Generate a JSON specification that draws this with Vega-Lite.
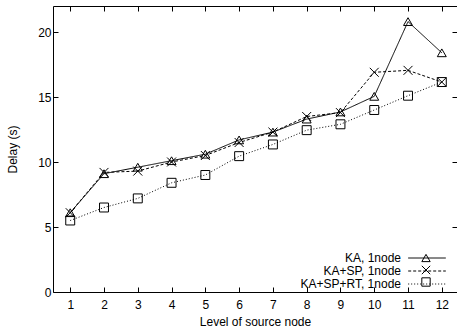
{
  "$schema": "https://vega.github.io/schema/vega-lite/v6.json",
  "width": 404,
  "height": 286,
  "autosize": "none",
  "padding": {"left": 53, "top": 6, "right": 0, "bottom": 39},
  "background": "white",
  "config": {
    "view": {"stroke": null},
    "font": "Liberation Sans",
    "axis": {
      "grid": false,
      "domainColor": "black",
      "domainWidth": 1,
      "tickColor": "black",
      "tickWidth": 1,
      "labelColor": "black",
      "labelFontSize": 12,
      "labelFont": "Liberation Sans",
      "titleFont": "Liberation Sans",
      "titleFontSize": 12,
      "titleFontWeight": "normal",
      "titleColor": "black"
    }
  },
  "data": {
    "values": [
      {"level": 1, "series": "KA, 1node", "mk": "KA, 1node", "delay": 6.1},
      {"level": 2, "series": "KA, 1node", "mk": "KA, 1node", "delay": 9.1},
      {"level": 3, "series": "KA, 1node", "mk": "KA, 1node", "delay": 9.6},
      {"level": 4, "series": "KA, 1node", "mk": "KA, 1node", "delay": 10.1},
      {"level": 5, "series": "KA, 1node", "mk": "KA, 1node", "delay": 10.6},
      {"level": 6, "series": "KA, 1node", "mk": "KA, 1node", "delay": 11.7},
      {"level": 7, "series": "KA, 1node", "mk": "KA, 1node", "delay": 12.3},
      {"level": 8, "series": "KA, 1node", "mk": "KA, 1node", "delay": 13.3},
      {"level": 9, "series": "KA, 1node", "mk": "KA, 1node", "delay": 13.85},
      {"level": 10, "series": "KA, 1node", "mk": "KA, 1node", "delay": 15.05},
      {"level": 11, "series": "KA, 1node", "mk": "KA, 1node", "delay": 20.8},
      {"level": 12, "series": "KA, 1node", "mk": "KA, 1node", "delay": 18.4},
      {"level": 1, "series": "KA+SP, 1node", "mk": "KA+SP, 1node", "delay": 6.1},
      {"level": 2, "series": "KA+SP, 1node", "mk": "KA+SP, 1node", "delay": 9.2},
      {"level": 3, "series": "KA+SP, 1node", "mk": "KA+SP, 1node", "delay": 9.3},
      {"level": 4, "series": "KA+SP, 1node", "mk": "KA+SP, 1node", "delay": 10.0},
      {"level": 5, "series": "KA+SP, 1node", "mk": "KA+SP, 1node", "delay": 10.5},
      {"level": 6, "series": "KA+SP, 1node", "mk": "KA+SP, 1node", "delay": 11.5},
      {"level": 7, "series": "KA+SP, 1node", "mk": "KA+SP, 1node", "delay": 12.3},
      {"level": 8, "series": "KA+SP, 1node", "mk": "KA+SP, 1node", "delay": 13.5},
      {"level": 9, "series": "KA+SP, 1node", "mk": "KA+SP, 1node", "delay": 13.8},
      {"level": 10, "series": "KA+SP, 1node", "mk": "KA+SP, 1node", "delay": 16.9},
      {"level": 11, "series": "KA+SP, 1node", "mk": "KA+SP, 1node", "delay": 17.05},
      {"level": 12, "series": "KA+SP, 1node", "mk": "KA+SP, 1node", "delay": 16.15},
      {"level": 1, "series": "KA+SP+RT, 1node", "mk": "KA+SP+RT, 1node", "delay": 5.5},
      {"level": 2, "series": "KA+SP+RT, 1node", "mk": "KA+SP+RT, 1node", "delay": 6.5},
      {"level": 3, "series": "KA+SP+RT, 1node", "mk": "KA+SP+RT, 1node", "delay": 7.2},
      {"level": 4, "series": "KA+SP+RT, 1node", "mk": "KA+SP+RT, 1node", "delay": 8.4},
      {"level": 5, "series": "KA+SP+RT, 1node", "mk": "KA+SP+RT, 1node", "delay": 9.0},
      {"level": 6, "series": "KA+SP+RT, 1node", "mk": "KA+SP+RT, 1node", "delay": 10.45},
      {"level": 7, "series": "KA+SP+RT, 1node", "mk": "KA+SP+RT, 1node", "delay": 11.35},
      {"level": 8, "series": "KA+SP+RT, 1node", "mk": "KA+SP+RT, 1node", "delay": 12.45},
      {"level": 9, "series": "KA+SP+RT, 1node", "mk": "KA+SP+RT, 1node", "delay": 12.9},
      {"level": 10, "series": "KA+SP+RT, 1node", "mk": "KA+SP+RT, 1node", "delay": 14.0},
      {"level": 11, "series": "KA+SP+RT, 1node", "mk": "KA+SP+RT, 1node", "delay": 15.1},
      {"level": 12, "series": "KA+SP+RT, 1node", "mk": "KA+SP+RT, 1node", "delay": 16.15}
    ]
  },
  "resolve": {"axis": {"x": "independent", "y": "independent"}},
  "layer": [
    {
      "mark": {"type": "line", "stroke": "black", "strokeWidth": 1},
      "encoding": {
        "x": {
          "field": "level", "type": "quantitative",
          "scale": {"domain": [0.49, 12.45], "nice": false, "zero": false},
          "axis": {
            "orient": "bottom",
            "values": [1, 2, 3, 4, 5, 6, 7, 8, 9, 10, 11, 12],
            "format": "d",
            "tickSize": -5,
            "labelPadding": 12,
            "title": "Level of source node",
            "titlePadding": 6
          }
        },
        "y": {
          "field": "delay", "type": "quantitative",
          "scale": {"domain": [0, 22], "nice": false, "zero": true},
          "axis": {
            "orient": "left",
            "values": [0, 5, 10, 15, 20],
            "tickSize": -5,
            "labelPadding": 7,
            "title": "Delay (s)",
            "titlePadding": 18
          }
        },
        "strokeDash": {
          "field": "series", "type": "nominal",
          "sort": "descending",
          "scale": {"range": [[1, 0], [3, 2], [1, 2]]},
          "legend": {
            "orient": "none",
            "legendX": 368,
            "legendY": 246,
            "title": null,
            "symbolType": "M-4.5,0L4.5,0",
            "symbolSize": 70,
            "symbolStrokeColor": "black",
            "symbolFillColor": "transparent",
            "symbolStrokeWidth": 1,
            "rowPadding": 1,
            "labelFont": "Liberation Sans",
            "labelFontSize": 12,
            "labelColor": "black",
            "labelAlign": "right",
            "labelOffset": -32
          }
        }
      }
    },
    {
      "mark": {"type": "point", "filled": false, "stroke": "black", "strokeWidth": 1, "size": 80, "opacity": 1},
      "encoding": {
        "x": {
          "field": "level", "type": "quantitative",
          "axis": {
            "orient": "top",
            "values": [1, 2, 3, 4, 5, 6, 7, 8, 9, 10, 11, 12],
            "labels": false,
            "tickSize": -5,
            "title": null
          }
        },
        "y": {
          "field": "delay", "type": "quantitative",
          "axis": {
            "orient": "right",
            "values": [0, 5, 10, 15, 20],
            "labels": false,
            "domain": false,
            "tickSize": -5,
            "title": null
          }
        },
        "shape": {
          "field": "mk", "type": "nominal",
          "sort": "descending",
          "scale": {"range": ["triangle-up", "M-1,-1L1,1M-1,1L1,-1", "square"]},
          "legend": {
            "orient": "none",
            "legendX": 368,
            "legendY": 246,
            "title": null,
            "clipHeight": 12,
            "rowPadding": 0,
            "symbolSize": 70,
            "symbolStrokeColor": "black",
            "symbolFillColor": "transparent",
            "symbolStrokeWidth": 1,
            "labelExpr": "''"
          }
        }
      }
    }
  ]
}
